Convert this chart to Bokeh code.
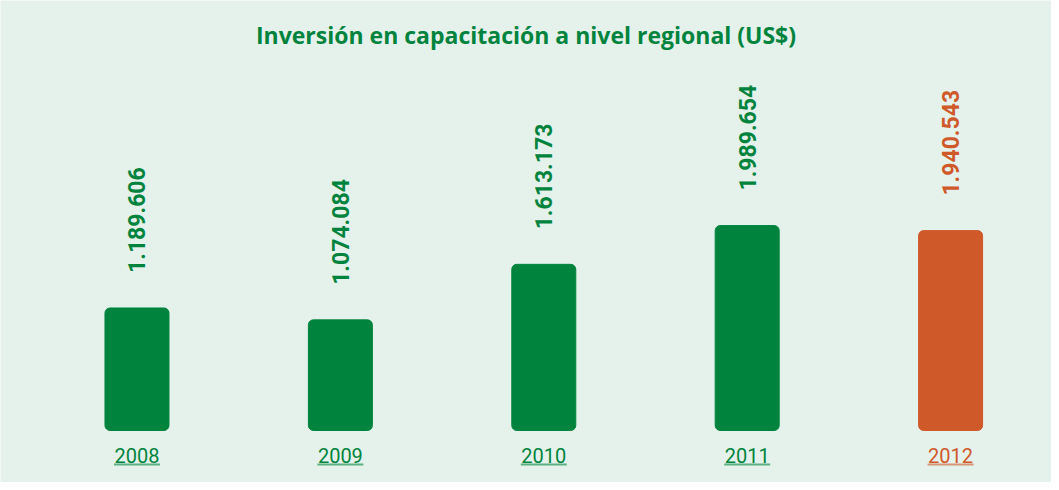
import math
from bokeh.plotting import figure
from bokeh.models import Range1d, ColumnDataSource
from bokeh.core.properties import value
from bokeh.embed import file_html
from bokeh.resources import INLINE

# ---- data ----
years = ["2008", "2009", "2010", "2011", "2012"]
amounts = [1189606, 1074084, 1613173, 1989654, 1940543]
amount_labels = ["1.189.606", "1.074.084", "1.613.173", "1.989.654", "1.940.543"]
bar_colors = ["#00843d", "#00843d", "#00843d", "#00843d", "#d0592a"]
title_text = "Inversión en capacitación a nivel regional (US$)"

GREEN = "#00843d"
BG = "#e5f2eb"

W, H = 1051, 482
PX_X = 203.4            # px per category step
PX_Y = 103.0 / 1e6      # px per dollar
BASE = 430              # baseline px from top of figure

x_start = -0.671
x_end = x_start + W / PX_X
y_top = BASE / PX_Y
y_bottom = -(H - BASE) / PX_Y

def py(px_from_top):
    return (BASE - px_from_top) / PX_Y

xs = list(range(len(years)))
src = ColumnDataSource(dict(x=xs, amount=amounts, label=amount_labels,
                            year=years, color=bar_colors))

p = figure(width=W, height=H, output_backend="svg", toolbar_location=None,
           x_range=Range1d(x_start, x_end), y_range=Range1d(y_bottom, y_top),
           min_border=0, min_border_left=0, min_border_right=0,
           min_border_top=0, min_border_bottom=0)
p.axis.visible = False
p.grid.visible = False
p.outline_line_color = None
p.background_fill_color = BG
p.border_fill_color = BG

p.vbar(x="x", top="amount", bottom=0, width=64 / PX_X, color="color",
       border_radius=5, source=src)

# rotated value labels
p.text(x="x", y="amount", text="label", source=src, angle=math.pi / 2,
       text_align="left", text_baseline="middle", y_offset=-35,
       text_font=value("Roboto"), text_font_style="bold",
       text_font_size="23px", text_color="color")

# year labels with underline
p.text(x="x", y=0, text="year", source=src, text_align="center",
       text_baseline="middle", y_offset=25,
       text_font=value("Roboto"), text_font_size="20px", text_color="color")
ul_src = ColumnDataSource(dict(x0=[x - 23 / PX_X for x in xs],
                               x1=[x + 23 / PX_X for x in xs],
                               color=bar_colors))
p.segment(x0="x0", x1="x1", y0=py(464), y1=py(464), line_color="color",
          line_alpha=0.6, line_width=2, source=ul_src)

# title
p.text(x=[(x_start + x_end) / 2], y=[py(34)], text=[title_text],
       text_align="center", text_baseline="middle",
       text_font=value("Open Sans"), text_font_style="bold",
       text_font_size="23px", text_color=GREEN)

open("out.html", "w").write(file_html(p, INLINE))
